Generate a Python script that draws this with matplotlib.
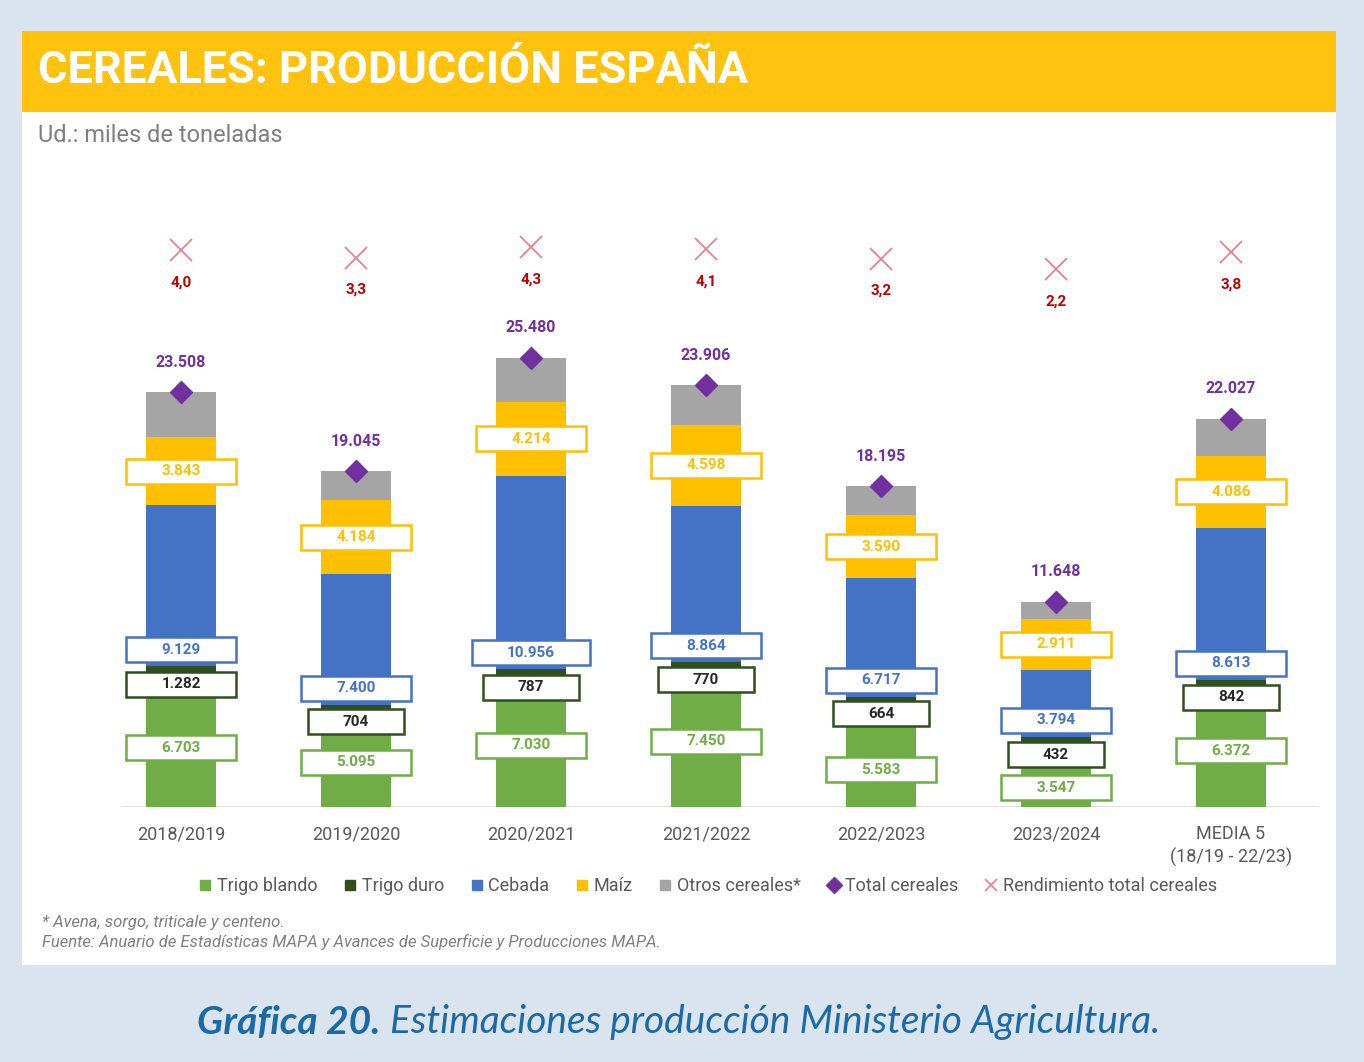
#!/usr/bin/env python3
"""
Cereales: producción España (miles de toneladas), barras apiladas por campaña.
"""

import numpy as np
import matplotlib.pyplot as plt
from matplotlib.lines import Line2D
from matplotlib.patches import Rectangle
from matplotlib.path import Path

# --- datos ---
campanas = ['2018/2019', '2019/2020', '2020/2021', '2021/2022',
            '2022/2023', '2023/2024', 'MEDIA 5\n(18/19 - 22/23)']
trigo_blando = [6703, 5095, 7030, 7450, 5583, 3547, 6372]
trigo_duro = [1282, 704, 787, 770, 664, 432, 842]
cebada = [9129, 7400, 10956, 8864, 6717, 3794, 8613]
maiz = [3843, 4184, 4214, 4598, 3590, 2911, 4086]
otros = [2551, 1662, 2493, 2224, 1641, 964, 2114]
total = [23508, 19045, 25480, 23906, 18195, 11648, 22027]
rendimiento = [4.0, 3.3, 4.3, 4.1, 3.2, 2.2, 3.8]

# --- estilos ---
VERDE = '#70ad47'
DURO = '#2f4f1f'
AZUL = '#4472c4'
AMARILLO = '#ffc000'
GRIS = '#a5a5a5'
MORADO = '#7030a0'
ROJO = '#c00000'
ROJO_X = '#e8828c'
TEXTO = '#595959'

plt.rcParams['font.family'] = ['Roboto', 'DejaVu Sans']

W, H = 1364, 1062
fig = plt.figure(figsize=(W / 100, H / 100), dpi=100)
fig.patch.set_facecolor('#d9e4ee')

# panel blanco y franja amarilla del título
fig.add_artist(Rectangle((22 / W, 1 - 965 / H), (1336 - 22) / W, (965 - 31) / H,
                         transform=fig.transFigure, fc='white', ec='none', zorder=-2))
fig.add_artist(Rectangle((22 / W, 1 - 112 / H), (1336 - 22) / W, 81 / H,
                         transform=fig.transFigure, fc='#ffc20e', ec='none', zorder=-1))
fig.text(38 / W, 1 - 71 / H, 'CEREALES: PRODUCCIÓN ESPAÑA', color='white',
         fontsize=32.5, fontweight='bold', va='center')
fig.text(38 / W, 1 - 135 / H, 'Ud.: miles de toneladas', color='#7f7f7f',
         fontsize=17, va='center')


def caja(x0, y0, width, height, mutation_size):
    """Recuadro de etiqueta: margen horizontal fijo, alto fijo (pixeles)."""
    padx, alto = 35, 25
    cy = y0 + height / 2
    verts = [(x0 - padx, cy - alto / 2), (x0 + width + padx, cy - alto / 2),
             (x0 + width + padx, cy + alto / 2), (x0 - padx, cy + alto / 2),
             (x0 - padx, cy - alto / 2)]
    codes = [Path.MOVETO, Path.LINETO, Path.LINETO, Path.LINETO, Path.CLOSEPOLY]
    return Path(verts, codes)


def miles(v):
    return f'{v:,}'.replace(',', '.')


ax = fig.add_axes([93.5 / W, 1 - 807 / H, 1225 / W, 607 / H])
ax.patch.set_visible(False)
x = np.arange(len(campanas))
ancho = 0.4

series = [(trigo_blando, VERDE), (trigo_duro, DURO), (cebada, AZUL),
          (maiz, AMARILLO), (otros, GRIS)]
base = np.zeros(len(campanas))
bases = []
for vals, col in series:
    ax.bar(x, vals, ancho, bottom=base, color=col, zorder=2)
    bases.append(base.copy())
    base = base + np.array(vals)

ax.set_xlim(-0.5, 6.5)
ax.set_ylim(0, 34417)
for s in ax.spines.values():
    s.set_visible(False)
ax.set_yticks([])
ax.set_xticks(x)
ax.set_xticklabels(campanas, color=TEXTO, fontsize=13, linespacing=1.3)
ax.tick_params(axis='x', length=0, pad=13)
ax.axhline(0, xmin=0.023, xmax=1.0, color='#d9d9d9', lw=1.2, zorder=1)

# posiciones de etiquetas (desplazamientos en pixeles, como en el original)
off_blando = [0, 0, 0, 0, -12, -12, 0]
off_duro = [-7, -11, -11, -11, -11, -14, -10]


def etiqueta(i, y, off, texto, col_txt, col_borde):
    ax.annotate(texto, (i, y), xytext=(0, off), textcoords='offset pixels',
                ha='center', va='center', fontsize=11, fontweight='bold',
                color=col_txt, zorder=5,
                bbox=dict(boxstyle=caja, fc='white', ec=col_borde, lw=1.8))


for i in range(len(campanas)):
    etiqueta(i, bases[0][i] + trigo_blando[i] / 2, off_blando[i],
             miles(trigo_blando[i]), VERDE, VERDE)
    etiqueta(i, bases[1][i] + trigo_duro[i] / 2, off_duro[i],
             miles(trigo_duro[i]), '#262626', DURO)
    etiqueta(i, bases[2][i], 16.5, miles(cebada[i]), AZUL, AZUL)
    etiqueta(i, bases[3][i] + maiz[i] / 2, 0, miles(maiz[i]), AMARILLO, AMARILLO)

# total cereales
ax.plot(x, total, ls='none', marker='D', ms=11, color=MORADO, zorder=4)
for i, v in enumerate(total):
    ax.annotate(miles(v), (i, v), xytext=(0, 30), textcoords='offset pixels',
                ha='center', va='center', fontsize=11.5, fontweight='bold', color=MORADO)

# rendimiento (eje secundario oculto)
ax2 = ax.twinx()
ax2.set_ylim(-49.0, 8.78)
ax2.set_axis_off()
ax2.plot(x, rendimiento, ls='none', marker='x', ms=16, mew=1.3, color=ROJO_X)
for i, v in enumerate(rendimiento):
    ax2.annotate(f'{v:.1f}'.replace('.', ','), (i, v), xytext=(0, -32),
                 textcoords='offset pixels', ha='center', va='center',
                 fontsize=11, fontweight='bold', color=ROJO)

# leyenda
handles = [
    Line2D([], [], ls='none', marker='s', ms=7, color=VERDE, label='Trigo blando'),
    Line2D([], [], ls='none', marker='s', ms=7, color=DURO, label='Trigo duro'),
    Line2D([], [], ls='none', marker='s', ms=7, color=AZUL, label='Cebada'),
    Line2D([], [], ls='none', marker='s', ms=7, color=AMARILLO, label='Maíz'),
    Line2D([], [], ls='none', marker='s', ms=7, color=GRIS, label='Otros cereales*'),
    Line2D([], [], ls='none', marker='D', ms=8, color=MORADO, label='Total cereales'),
    Line2D([], [], ls='none', marker='x', ms=9, mew=1.2, color=ROJO_X,
           label='Rendimiento total cereales'),
]
fig.legend(handles=handles, loc='center', bbox_to_anchor=(708 / W, 1 - 886 / H),
           ncol=7, frameon=False, fontsize=13, labelcolor=TEXTO,
           handlelength=0.7, handletextpad=0.3, columnspacing=1.45)

# notas
fig.text(42 / W, 1 - 922 / H, '* Avena, sorgo, triticale y centeno.',
         color='#7f7f7f', fontsize=12, style='italic', va='center')
fig.text(42 / W, 1 - 942 / H,
         'Fuente: Anuario de Estadísticas MAPA y Avances de Superficie y Producciones MAPA.',
         color='#7f7f7f', fontsize=12, style='italic', va='center')

# pie de gráfica
AZUL_PIE = '#1b6aa6'
t1 = fig.text(197 / W, 1 - 1022 / H, 'Gráfica 20.', color=AZUL_PIE, fontsize=28,
              fontweight='bold', style='italic', va='center', family=['Lato', 'DejaVu Sans'])
fig.canvas.draw()
bb = t1.get_window_extent(fig.canvas.get_renderer())
fig.text((bb.x1 + 10) / W, 1 - 1022 / H,
         'Estimaciones producción Ministerio Agricultura.', color=AZUL_PIE,
         fontsize=28, style='italic', va='center', family=['Lato', 'DejaVu Sans'])

fig.savefig('out.png', dpi=100, facecolor=fig.get_facecolor())
